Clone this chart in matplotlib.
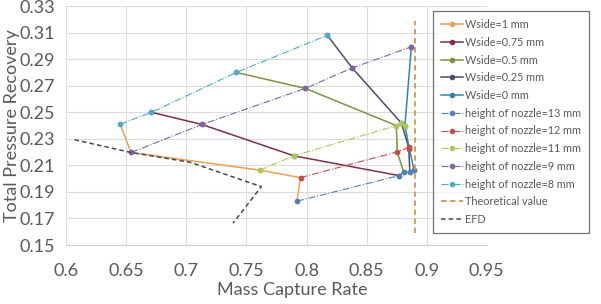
import matplotlib.pyplot as plt

# Wside curves (points ordered by nozzle height 8, 9, 11, 12, 13 mm)
w1_x = [0.645, 0.654, 0.761, 0.795, 0.792]
w1_y = [0.241, 0.2197, 0.2064, 0.2008, 0.183]
w075_x = [0.671, 0.713, 0.7895, 0.877]
w075_y = [0.250, 0.2408, 0.2172, 0.2023]
w05_x = [0.7416, 0.799, 0.8747, 0.8755, 0.8808]
w05_y = [0.280, 0.268, 0.240, 0.2202, 0.2049]
w025_x = [0.8173, 0.838, 0.8789, 0.885, 0.886]
w025_y = [0.308, 0.2834, 0.2419, 0.2235, 0.2049]
w0_x = [0.8872, 0.8819, 0.8855, 0.8894]
w0_y = [0.2993, 0.240, 0.2225, 0.2066]

# nozzle height curves (points ordered by Wside 1 -> 0)
h13_x = [0.792, 0.877, 0.8808, 0.886, 0.8894]
h13_y = [0.183, 0.2023, 0.2049, 0.2049, 0.2066]
h12_x = [0.795, 0.8755, 0.885, 0.8855]
h12_y = [0.2008, 0.2202, 0.2235, 0.2225]
h11_x = [0.761, 0.7895, 0.8747, 0.8789, 0.8819]
h11_y = [0.2064, 0.2172, 0.240, 0.2419, 0.240]
h9_x = [0.654, 0.713, 0.799, 0.838, 0.8872]
h9_y = [0.2197, 0.2408, 0.268, 0.2834, 0.2993]
h8_x = [0.645, 0.671, 0.7416, 0.8173]
h8_y = [0.241, 0.250, 0.280, 0.308]

theo_x = [0.8905, 0.8905]
theo_y = [0.159, 0.319]
efd_x = [0.607, 0.654, 0.703, 0.7624, 0.7388]
efd_y = [0.2293, 0.2197, 0.2124, 0.194, 0.1664]

plt.rcParams['font.family'] = ['Lato', 'DejaVu Sans']

fig = plt.figure(figsize=(6.01, 3.04), dpi=100)
ax = fig.add_axes([0.110, 0.194, 0.700, 0.786])

ms = 3
ax.plot(w1_x, w1_y, '-o', color='#F0A050', lw=1.1, ms=ms, label='Wside=1 mm')
ax.plot(w075_x, w075_y, '-o', color='#7E3045', lw=1.1, ms=ms, label='Wside=0.75 mm')
ax.plot(w05_x, w05_y, '-o', color='#7A9440', lw=1.1, ms=ms, label='Wside=0.5 mm')
ax.plot(w025_x, w025_y, '-o', color='#4A4E68', lw=1.1, ms=ms, label='Wside=0.25 mm')
ax.plot(w0_x, w0_y, '-o', color='#3584A8', lw=1.1, ms=ms, label='Wside=0 mm')

ax.plot(h13_x, h13_y, '-.o', color='#4F81BD', lw=0.8, ms=ms, label='height of nozzle=13 mm')
ax.plot(h12_x, h12_y, '-.o', color='#C0504D', lw=0.8, ms=ms, label='height of nozzle=12 mm')
ax.plot(h11_x, h11_y, '-.o', color='#A8C85A', lw=0.8, ms=ms, label='height of nozzle=11 mm')
ax.plot(h9_x, h9_y, '-.o', color='#8064A2', lw=0.8, ms=ms, label='height of nozzle=9 mm')
ax.plot(h8_x, h8_y, '-.o', color='#4BACC6', lw=0.8, ms=ms, label='height of nozzle=8 mm')

ax.plot(theo_x, theo_y, '--', color='#D9954A', lw=1.3, dashes=(3, 2), label='Theoretical value')
ax.plot(efd_x, efd_y, '--', color='#404858', lw=1.1, dashes=(3, 2), label='EFD')

ax.set_xlim(0.6, 0.95)
ax.set_ylim(0.15, 0.33)
ax.set_xticks([0.6, 0.65, 0.7, 0.75, 0.8, 0.85, 0.9, 0.95])
ax.set_xticklabels(['0.6', '0.65', '0.7', '0.75', '0.8', '0.85', '0.9', '0.95'])
ax.set_yticks([0.15, 0.17, 0.19, 0.21, 0.23, 0.25, 0.27, 0.29, 0.31, 0.33])
ax.set_yticklabels(['0.15', '0.17', '0.19', '0.21', '0.23', '0.25', '0.27', '0.29', '0.31', '0.33'])
ax.grid(True, color='#DCDCDC', lw=0.8)
ax.set_axisbelow(True)
for s in ['top', 'right', 'left']:
    ax.spines[s].set_visible(False)
ax.spines['bottom'].set_color('#D0D0D0')
ax.tick_params(axis='y', length=0, labelsize=13, colors='#595959', pad=8)
ax.tick_params(axis='x', length=0, labelsize=13, colors='#595959', pad=13)
ax.set_xlabel('Mass Capture Rate', fontsize=13, color='#595959')
ax.xaxis.set_label_coords(0.537, -0.155)
ax.set_ylabel('Total Pressure Recovery', fontsize=13, color='#595959')
ax.yaxis.set_label_coords(-0.11, 0.5)

leg = fig.legend(loc='upper left', bbox_to_anchor=(0.7205, 0.964), fontsize=7.8,
                 frameon=True, fancybox=False, edgecolor='#505050',
                 handlelength=2.0, handletextpad=0.2, labelspacing=0.62,
                 borderpad=0.75, borderaxespad=0, labelcolor='#595959')
leg.get_frame().set_linewidth(0.9)

fig.savefig('out.png', dpi=100)
